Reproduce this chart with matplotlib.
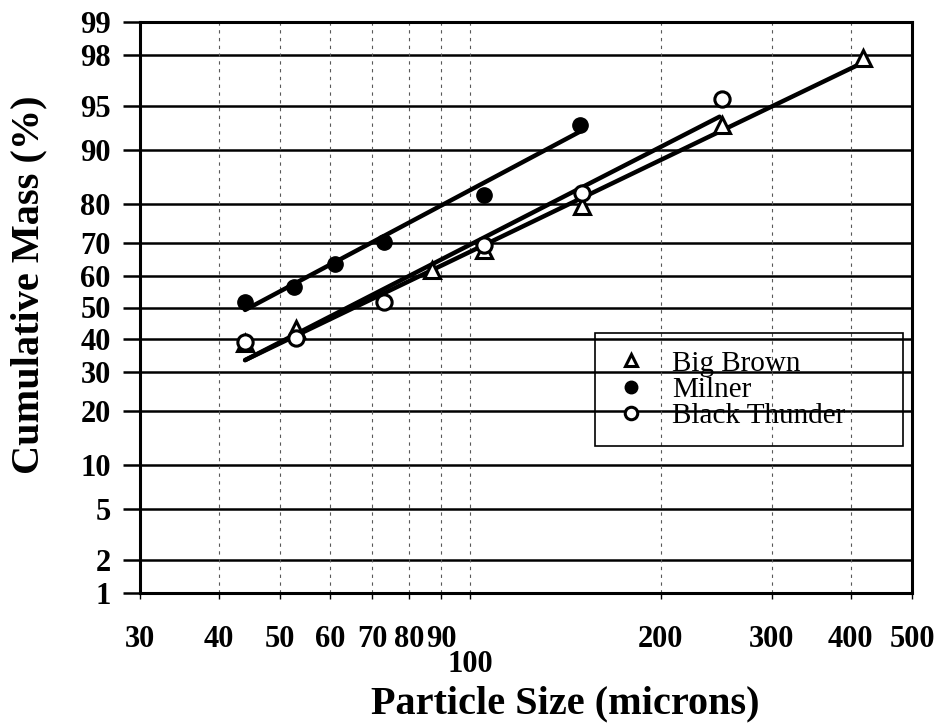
from statistics import NormalDist

import matplotlib
matplotlib.use("Agg")
import matplotlib.pyplot as plt
import numpy as np
from matplotlib.ticker import FixedLocator, NullLocator


# ---- data: cumulative mass (%) vs particle size (microns) ----
big_brown_size = [44, 53, 87, 105, 150, 250, 418]
big_brown_mass = [38.5, 43, 62, 68, 79.5, 93.2, 97.9]

milner_size = [44, 52.5, 61, 73, 105, 149]
milner_mass = [51.8, 56.6, 63.8, 70.3, 82, 93.2]

black_thunder_size = [44, 53, 73, 105, 150, 250]
black_thunder_mass = [38.9, 40.2, 51.8, 69.4, 82.5, 95.5]

# fitted lines (end points)
big_brown_fit_size = [44, 418]
big_brown_fit_mass = [33.4, 97.7]
milner_fit_size = [44, 149]
milner_fit_mass = [49.2, 92.4]
black_thunder_fit_size = [44, 248]
black_thunder_fit_mass = [33.4, 94.0]

x_ticks = [30, 40, 50, 60, 70, 80, 90, 100, 200, 300, 400, 500]
y_ticks = [1, 2, 5, 10, 20, 30, 40, 50, 60, 70, 80, 90, 95, 98, 99]
LOW_TICK = 100  # this label sits one row lower


# ---- probability scale for the y axis ----
_nd = NormalDist()
_ppf = np.vectorize(lambda p: _nd.inv_cdf(min(max(p / 100.0, 1e-9), 1 - 1e-9)),
                    otypes=[float])
_cdf = np.vectorize(lambda z: 100.0 * _nd.cdf(z), otypes=[float])


def probit(p):
    return _ppf(np.asarray(p, dtype=float))


def inv_probit(z):
    return _cdf(np.asarray(z, dtype=float))


SERIF = ["Liberation Serif", "DejaVu Serif"]
plt.rcParams["font.family"] = SERIF

fig = plt.figure(figsize=(9.36, 7.26), dpi=100)
ax = fig.add_axes([140 / 936, 1 - 593 / 726, 772 / 936, 571 / 726])

ax.set_xscale("log")
ax.set_yscale("function", functions=(probit, inv_probit))
ax.set_xlim(30, 500)
ax.set_ylim(1, 99)

# grid: solid horizontal, dashed vertical
for v in y_ticks[1:-1]:
    ax.axhline(v, color="black", lw=1.8, zorder=1)
for v in x_ticks[1:-1]:
    ax.axvline(v, color="0.35", lw=0.8, ls=(0, (3, 4)), zorder=1)

ax.plot(big_brown_fit_size, big_brown_fit_mass, color="black", lw=3.2,
        solid_capstyle="round", zorder=3)
ax.plot(milner_fit_size, milner_fit_mass, color="black", lw=3.2,
        solid_capstyle="round", zorder=3)
ax.plot(black_thunder_fit_size, black_thunder_fit_mass, color="black", lw=3.2,
        solid_capstyle="round", zorder=3)

ax.plot(big_brown_size, big_brown_mass, ls="none", marker="^", ms=11,
        mfc="white", mec="black", mew=2.2, zorder=4, label="Big Brown")
ax.plot(milner_size, milner_mass, ls="none", marker="o", ms=11,
        mfc="black", mec="black", zorder=4, label="Milner")
ax.plot(black_thunder_size, black_thunder_mass, ls="none", marker="o", ms=11,
        mfc="white", mec="black", mew=2.2, zorder=4, label="Black Thunder")

# ticks
ax.xaxis.set_major_locator(FixedLocator(x_ticks))
ax.xaxis.set_minor_locator(NullLocator())
ax.set_xticklabels(["" if v == LOW_TICK else str(v) for v in x_ticks])
ax.yaxis.set_major_locator(FixedLocator(y_ticks))
ax.yaxis.set_minor_locator(NullLocator())
ax.set_yticklabels([str(v) for v in y_ticks])

ax.tick_params(axis="x", direction="out", length=4, width=1, pad=19,
               labelsize=22)
ax.tick_params(axis="y", direction="out", length=12, width=1.8, pad=9,
               labelsize=22)
for lab in ax.get_xticklabels() + ax.get_yticklabels():
    lab.set_fontweight("bold")

# the "100" label is dropped below the row of other labels
ax.annotate(str(LOW_TICK), xy=(LOW_TICK, 0), xycoords=("data", "axes fraction"),
            xytext=(0, -72), textcoords="offset pixels", ha="center",
            va="center", fontsize=22, fontweight="bold", annotation_clip=False)

for s in ax.spines.values():
    s.set_linewidth(2.2)

fig.text(29 / 936, 1 - 285 / 726, "Cumulative Mass (%)", rotation=90,
         ha="center", va="center", fontsize=29, fontweight="bold")
fig.text(565 / 936, 1 - 704 / 726, "Particle Size (microns)",
         ha="center", va="center", fontsize=29, fontweight="bold")

leg = ax.legend(loc="upper left", bbox_to_anchor=(0.589, 0.254, 0.399, 0.201),
                mode="expand", frameon=True, fancybox=False, framealpha=1,
                facecolor="none", edgecolor="black", fontsize=21,
                handlelength=1.35, handletextpad=0.73, labelspacing=0.0,
                borderpad=0.58, borderaxespad=0)
leg.get_frame().set_linewidth(1.2)
for h in leg.legend_handles:
    h.set_markersize(9)

fig.savefig("out.png", dpi=100)
